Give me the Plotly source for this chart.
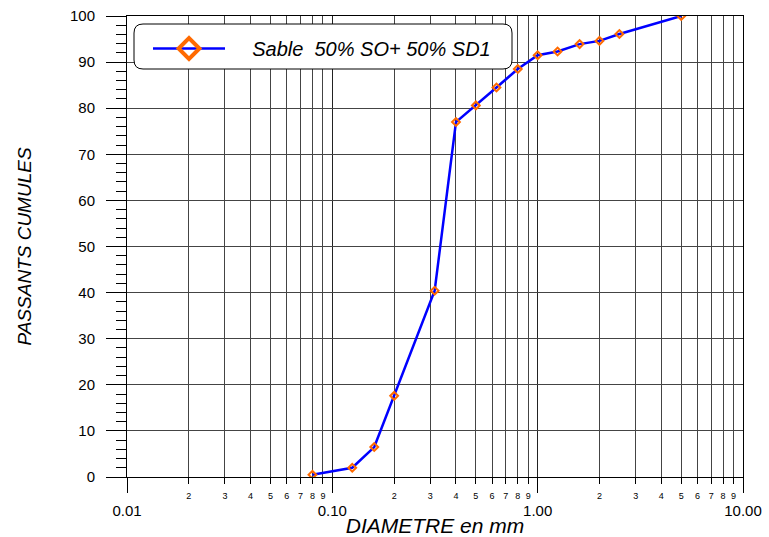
import plotly.graph_objects as go

# Data
diam_mm = [0.08, 0.125, 0.16, 0.2, 0.315, 0.4, 0.5, 0.63, 0.8, 1.0, 1.25, 1.6, 2.0, 2.5, 5.0]
passing = [0.5, 2.0, 6.5, 17.6, 40.4, 77.0, 80.6, 84.5, 88.5, 91.5, 92.3, 93.9, 94.6, 96.1, 100.0]
series_name = "Sable  50% SO+ 50% SD1"

major_vals = [0.01, 0.1, 1, 10]
major_text = ["0.01", "0.10", "1.00", "10.00"]
minor_vals = [m * d for d in [0.01, 0.1, 1] for m in range(2, 10)]
minor_text = [str(m) for d in [0.01, 0.1, 1] for m in range(2, 10)]

FONT = "Arial, Liberation Sans, sans-serif"
BLUE = "#0000FF"
ORANGE = "#FF6A00"

fig = go.Figure()
fig.add_trace(go.Scatter(
    x=diam_mm, y=passing, mode="lines+markers", showlegend=False,
    line=dict(color=BLUE, width=2.5),
    marker=dict(symbol="diamond-open", size=6, color=ORANGE, line=dict(width=2, color=ORANGE)),
))
# legend-only entry with the larger legend symbol
fig.add_trace(go.Scatter(
    x=[None], y=[None], mode="lines+markers", name="    " + series_name,
    line=dict(color=BLUE, width=2.5),
    marker=dict(symbol="diamond-open", size=17, color=ORANGE, line=dict(width=4, color=ORANGE)),
))
# dummy trace on the minor axis so it is drawn
fig.add_trace(go.Scatter(x=[None], y=[None], xaxis="x2", showlegend=False, hoverinfo="skip"))

# rounded legend box
x0, x1, y0, y1, r = 134, 512, 24, 69, 9
W, H = 769, 537
L, R, T, B = 127, 26, 16, 60
pw, ph = W - L - R, H - T - B
def px(x):
    return (x - L) / pw
def py(y):
    return 1 - (y - T) / ph
path = (f"M {px(x0 + r)},{py(y0)} L {px(x1 - r)},{py(y0)} "
        f"Q {px(x1)},{py(y0)} {px(x1)},{py(y0 + r)} L {px(x1)},{py(y1 - r)} "
        f"Q {px(x1)},{py(y1)} {px(x1 - r)},{py(y1)} L {px(x0 + r)},{py(y1)} "
        f"Q {px(x0)},{py(y1)} {px(x0)},{py(y1 - r)} L {px(x0)},{py(y0 + r)} "
        f"Q {px(x0)},{py(y0)} {px(x0 + r)},{py(y0)} Z")
fig.add_shape(type="path", path=path, xref="paper", yref="paper",
              fillcolor="white", line=dict(color="black", width=1), layer="above")

fig.update_layout(
    width=W, height=H,
    margin=dict(l=L, r=R, t=T, b=B, autoexpand=False),
    paper_bgcolor="white", plot_bgcolor="white",
    font=dict(family=FONT, color="black"),
    showlegend=True,
    legend=dict(x=px(148), y=py(29), xanchor="left", yanchor="top",
                bgcolor="rgba(0,0,0,0)", borderwidth=0, itemwidth=72,
                font=dict(size=20, family=FONT, style="italic")),
    xaxis=dict(
        type="log", range=[-2, 1], automargin=False,
        tickmode="array", tickvals=major_vals, ticktext=major_text,
        ticks="outside", ticklen=15, tickcolor="black", tickwidth=1,
        tickfont=dict(size=15, family=FONT), ticklabelstandoff=5,
        showgrid=True, gridcolor="#222", gridwidth=1,
        showline=True, linecolor="black", linewidth=1, mirror=True,
        zeroline=False,
        title=dict(text="DIAMETRE en mm", font=dict(size=21, family=FONT, style="italic"), standoff=0),
    ),
    xaxis2=dict(
        type="log", range=[-2, 1], overlaying="x", side="bottom", anchor="y", automargin=False,
        tickmode="array", tickvals=minor_vals, ticktext=minor_text,
        ticks="outside", ticklen=6, tickcolor="black", tickwidth=1,
        tickfont=dict(size=9, family=FONT), ticklabelstandoff=4,
        showgrid=True, gridcolor="#444", gridwidth=1,
        showline=False, zeroline=False,
    ),
    yaxis=dict(
        range=[0, 100], tickmode="linear", tick0=0, dtick=10, automargin=False,
        ticks="outside", ticklen=20, tickcolor="black", tickwidth=1,
        tickfont=dict(size=15, family=FONT), ticklabelstandoff=8,
        minor=dict(dtick=2, ticks="outside", ticklen=10, tickcolor="black", showgrid=False),
        showgrid=True, gridcolor="#444", gridwidth=1,
        showline=True, linecolor="black", linewidth=1, mirror=True,
        zeroline=False,
        title=dict(text="PASSANTS CUMULES", font=dict(size=19, family=FONT, style="italic"), standoff=33),
    ),
)

fig.write_html("out.html")
